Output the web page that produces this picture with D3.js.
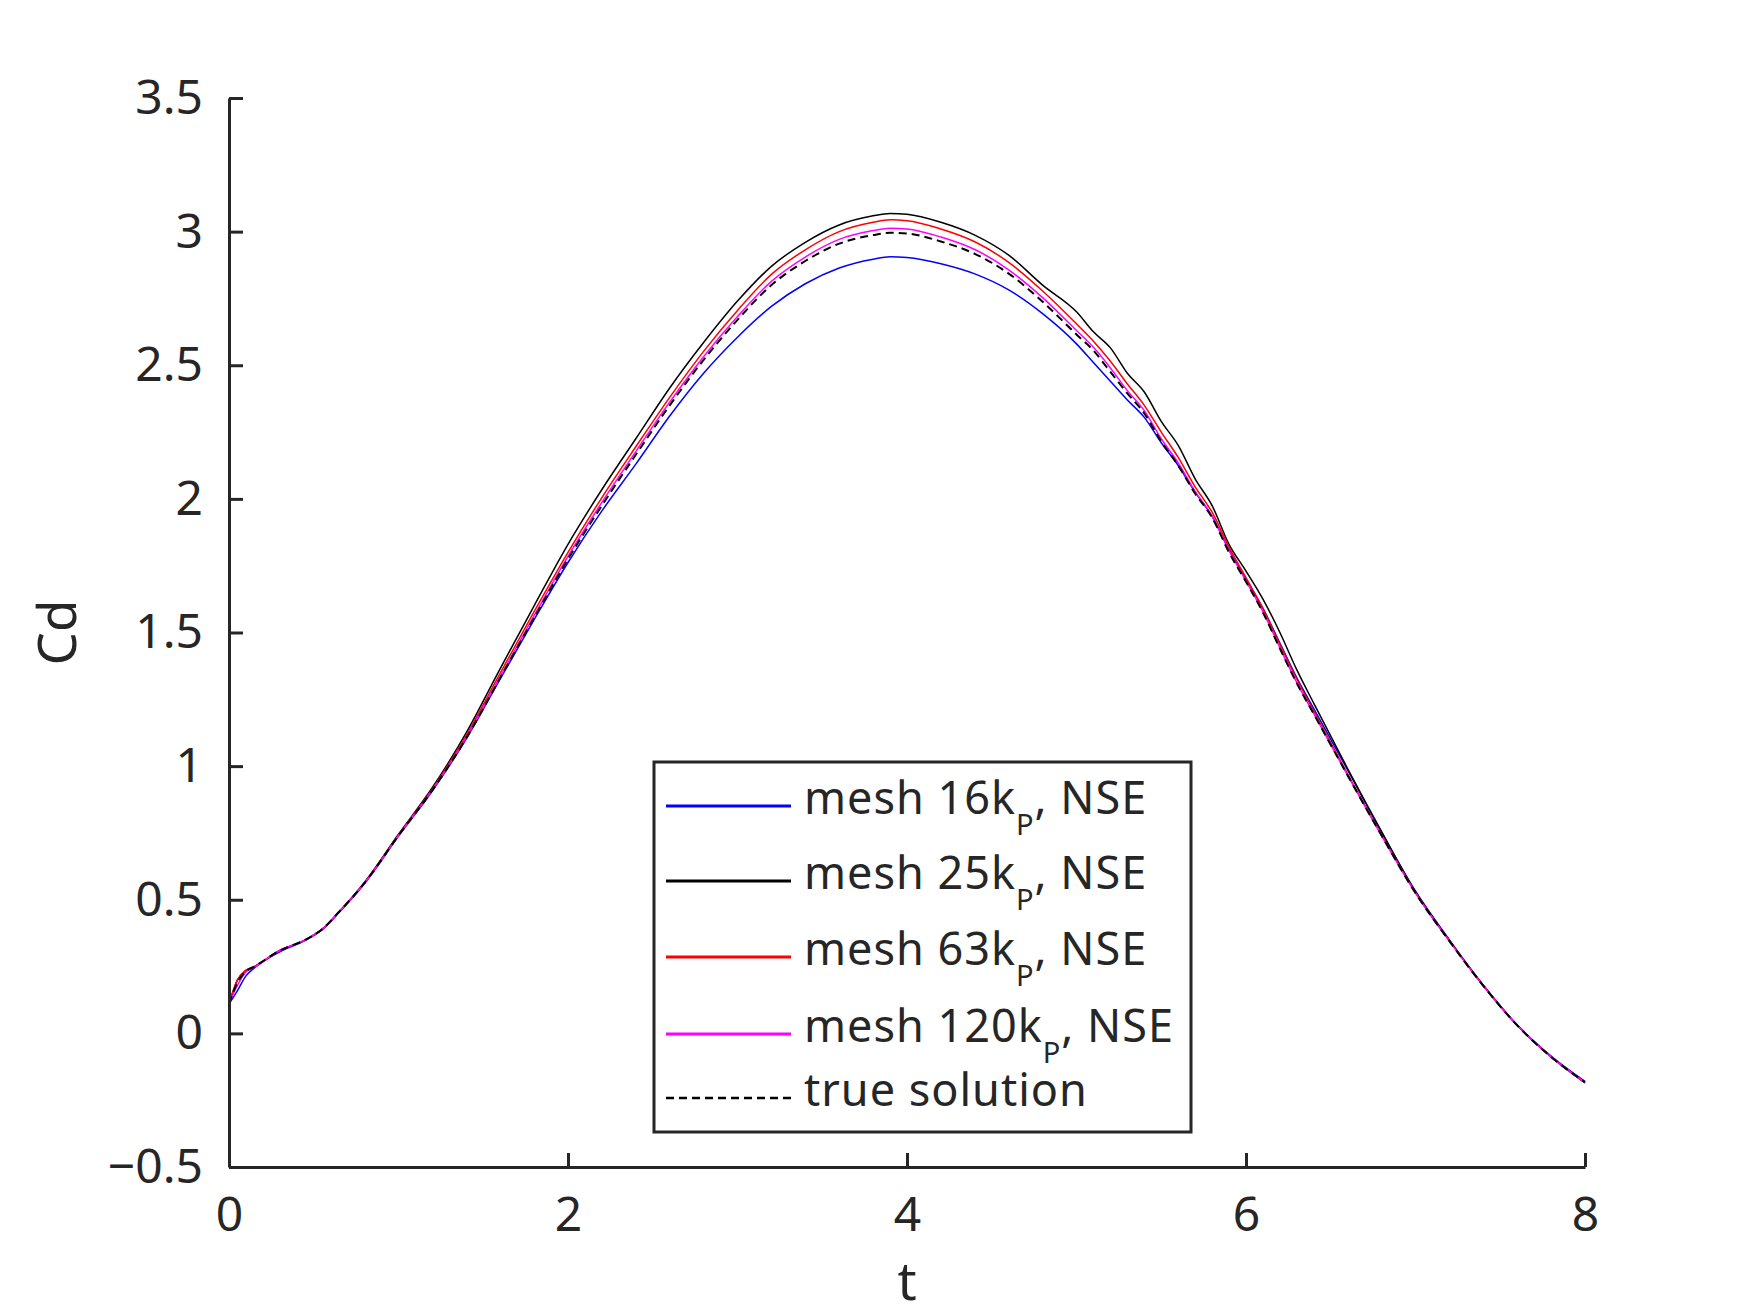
<!DOCTYPE html>
<html>
  <head>
    <meta charset="utf-8">
    <title>Cd vs t</title>
    <script src="https://d3js.org/d3.v7.min.js"></script>
    <style>
      body { margin: 0; background: #fff; }
      text { font-family: "Noto Sans", "Open Sans", sans-serif; fill: #262626; }
    </style>
  </head>

  <body>
    <svg width="1750" height="1313"></svg>

    <script type="text/javascript">
      // time grid shared by all series
      var tGrid = [0, 0.05, 0.1, 0.15, 0.3, 0.45, 0.55, 0.65, 0.8, 1.0,
        1.2, 1.4, 1.6, 1.8, 2.0, 2.2, 2.4, 2.6, 2.8, 3.0, 3.2, 3.4, 3.6, 3.8, 3.9, 4.0,
        4.2, 4.4, 4.6, 4.8, 5.0, 5.1, 5.2, 5.3, 5.4, 5.5, 5.6, 5.7, 5.8, 5.9, 6.0,
        6.1, 6.2, 6.3, 6.4, 6.6, 6.8, 7.0, 7.2, 7.4, 7.6, 7.8, 8.0];

      var cdMesh16 = [0.11, 0.16, 0.215, 0.245, 0.305, 0.348, 0.388, 0.453, 0.561, 0.738,
        0.908, 1.102, 1.326, 1.548, 1.762, 1.955, 2.13, 2.31, 2.47, 2.605, 2.72, 2.805, 2.864, 2.897, 2.906, 2.903,
        2.88, 2.842, 2.782, 2.693, 2.58, 2.51, 2.44, 2.37, 2.305, 2.21, 2.125, 2.025, 1.935, 1.81, 1.70,
        1.59, 1.46, 1.33, 1.215, 0.985, 0.752, 0.532, 0.35, 0.18, 0.032, -0.085, -0.18];

      var cdMesh25 = [0.11, 0.2, 0.235, 0.25, 0.31, 0.35, 0.39, 0.456, 0.566, 0.745,
        0.92, 1.125, 1.365, 1.60, 1.83, 2.035, 2.225, 2.415, 2.585, 2.74, 2.87, 2.96, 3.025, 3.059, 3.068, 3.065,
        3.035, 2.987, 2.912, 2.80, 2.70, 2.625, 2.565, 2.47, 2.40, 2.29, 2.20, 2.075, 1.975, 1.83, 1.73,
        1.625, 1.50, 1.36, 1.235, 0.99, 0.755, 0.53, 0.348, 0.18, 0.03, -0.088, -0.185];

      var cdMesh63 = [0.11, 0.2, 0.237, 0.25, 0.31, 0.35, 0.39, 0.455, 0.564, 0.742,
        0.915, 1.115, 1.348, 1.578, 1.80, 2.005, 2.195, 2.38, 2.552, 2.705, 2.84, 2.932, 3.0, 3.035, 3.044, 3.041,
        3.01, 2.962, 2.885, 2.778, 2.655, 2.59, 2.515, 2.43, 2.35, 2.25, 2.155, 2.045, 1.95, 1.82, 1.705,
        1.59, 1.455, 1.325, 1.205, 0.97, 0.742, 0.527, 0.346, 0.178, 0.03, -0.088, -0.184];

      var cdMesh120 = [0.11, 0.18, 0.23, 0.248, 0.31, 0.35, 0.39, 0.455, 0.563, 0.74,
        0.911, 1.108, 1.336, 1.563, 1.785, 1.987, 2.177, 2.362, 2.532, 2.682, 2.814, 2.905, 2.971, 3.004, 3.013, 3.01,
        2.98, 2.933, 2.857, 2.753, 2.63, 2.567, 2.49, 2.405, 2.33, 2.225, 2.135, 2.028, 1.935, 1.806, 1.693,
        1.578, 1.443, 1.312, 1.196, 0.965, 0.74, 0.525, 0.345, 0.178, 0.03, -0.088, -0.183];

      var cdTrue = [0.11, 0.19, 0.232, 0.25, 0.31, 0.35, 0.39, 0.455, 0.563, 0.74,
        0.91, 1.105, 1.33, 1.555, 1.775, 1.975, 2.165, 2.35, 2.52, 2.67, 2.80, 2.89, 2.955, 2.987, 2.996, 2.993,
        2.963, 2.917, 2.843, 2.738, 2.615, 2.555, 2.475, 2.395, 2.32, 2.215, 2.125, 2.02, 1.93, 1.80, 1.69,
        1.575, 1.44, 1.31, 1.195, 0.965, 0.74, 0.525, 0.345, 0.178, 0.03, -0.088, -0.183];

      var xTicks = [0, 2, 4, 6, 8];
      var yTicks = [-0.5, 0, 0.5, 1, 1.5, 2, 2.5, 3, 3.5];

      var seriesNames = ["mesh 16k", "mesh 25k", "mesh 63k", "mesh 120k", "true solution"];
      var seriesColors = ["#0000ff", "#000000", "#ff0000", "#ff00ff", "#000000"];

      var series = [
        { name: seriesNames[0], color: seriesColors[0], values: cdMesh16, dashed: false, sub: true },
        { name: seriesNames[1], color: seriesColors[1], values: cdMesh25, dashed: false, sub: true },
        { name: seriesNames[2], color: seriesColors[2], values: cdMesh63, dashed: false, sub: true },
        { name: seriesNames[3], color: seriesColors[3], values: cdMesh120, dashed: false, sub: true },
        { name: seriesNames[4], color: seriesColors[4], values: cdTrue, dashed: true, sub: false }
      ];

      var svg = d3.select("svg");
      var plotLeft = 229, plotRight = 1585, plotTop = 98, plotBottom = 1167;

      var xScale = d3.scaleLinear().domain([0, 8]).range([plotLeft, plotRight]);
      var yScale = d3.scaleLinear().domain([-0.5, 3.5]).range([plotBottom, plotTop]);

      // lines
      var lineGenerator = d3
        .line()
        .x(function (d) { return xScale(d[0]); })
        .y(function (d) { return yScale(d[1]); })
        .curve(d3.curveMonotoneX);

      series.forEach(function (s) {
        var pts = tGrid.map(function (t, i) { return [t, s.values[i]]; });
        svg.append("path")
          .attr("fill", "none")
          .attr("stroke", s.color)
          .attr("stroke-width", s.dashed ? 2 : 1.5)
          .attr("stroke-dasharray", s.dashed ? "8,5" : null)
          .attr("d", lineGenerator(pts));
      });

      // axes
      var xAxis = svg.append("g")
        .attr("transform", "translate(0," + plotBottom + ")")
        .call(d3.axisBottom(xScale).tickValues(xTicks).tickSizeInner(-14).tickSizeOuter(0).tickPadding(30).tickFormat(d3.format("d")));
      var yAxis = svg.append("g")
        .attr("transform", "translate(" + plotLeft + ",0)")
        .call(d3.axisLeft(yScale).tickValues(yTicks).tickSizeInner(-14).tickSizeOuter(0).tickPadding(26).tickFormat(d3.format("")));

      [xAxis, yAxis].forEach(function (a) {
        a.select(".domain").attr("stroke", "#262626").attr("stroke-width", 3);
        a.selectAll(".tick line").attr("stroke", "#262626").attr("stroke-width", 3);
        a.selectAll(".tick text")
          .style("font-size", "48px")
          .style("font-family", "'Noto Sans', sans-serif")
          .attr("fill", "#262626");
      });
      xAxis.selectAll(".tick text").attr("dy", "0.71em");

      // axis labels
      svg.append("text")
        .attr("x", (plotLeft + plotRight) / 2)
        .attr("y", 1300)
        .attr("text-anchor", "middle")
        .style("font-size", "53px")
        .text("t");
      svg.append("text")
        .attr("transform", "translate(76," + (plotTop + plotBottom) / 2 + ") rotate(-90)")
        .attr("text-anchor", "middle")
        .style("font-size", "53px")
        .text("Cd");

      // legend
      var lg = svg.append("g");
      lg.append("rect")
        .attr("x", 654).attr("y", 762)
        .attr("width", 537).attr("height", 370)
        .attr("fill", "#fff")
        .attr("stroke", "#262626")
        .attr("stroke-width", 3);

      var rowY = [806, 881, 957, 1034, 1098];
      series.forEach(function (s, i) {
        lg.append("line")
          .attr("x1", 666).attr("x2", 791)
          .attr("y1", rowY[i]).attr("y2", rowY[i])
          .attr("stroke", s.color)
          .attr("stroke-width", s.dashed ? 2.5 : 3)
          .attr("stroke-dasharray", s.dashed ? "8,5" : null);
        var txt = lg.append("text")
          .attr("x", 804)
          .attr("y", rowY[i] + 8)
          .style("font-size", "45px")
          .style("letter-spacing", "1px")
          .attr("fill", "#000");
        txt.append("tspan").text(s.name);
        if (s.sub) {
          txt.append("tspan").attr("dy", 21).style("font-size", "29px").text("P");
          txt.append("tspan").attr("dy", -21).text(", NSE");
        }
      });
    </script>
  </body>
</html>
